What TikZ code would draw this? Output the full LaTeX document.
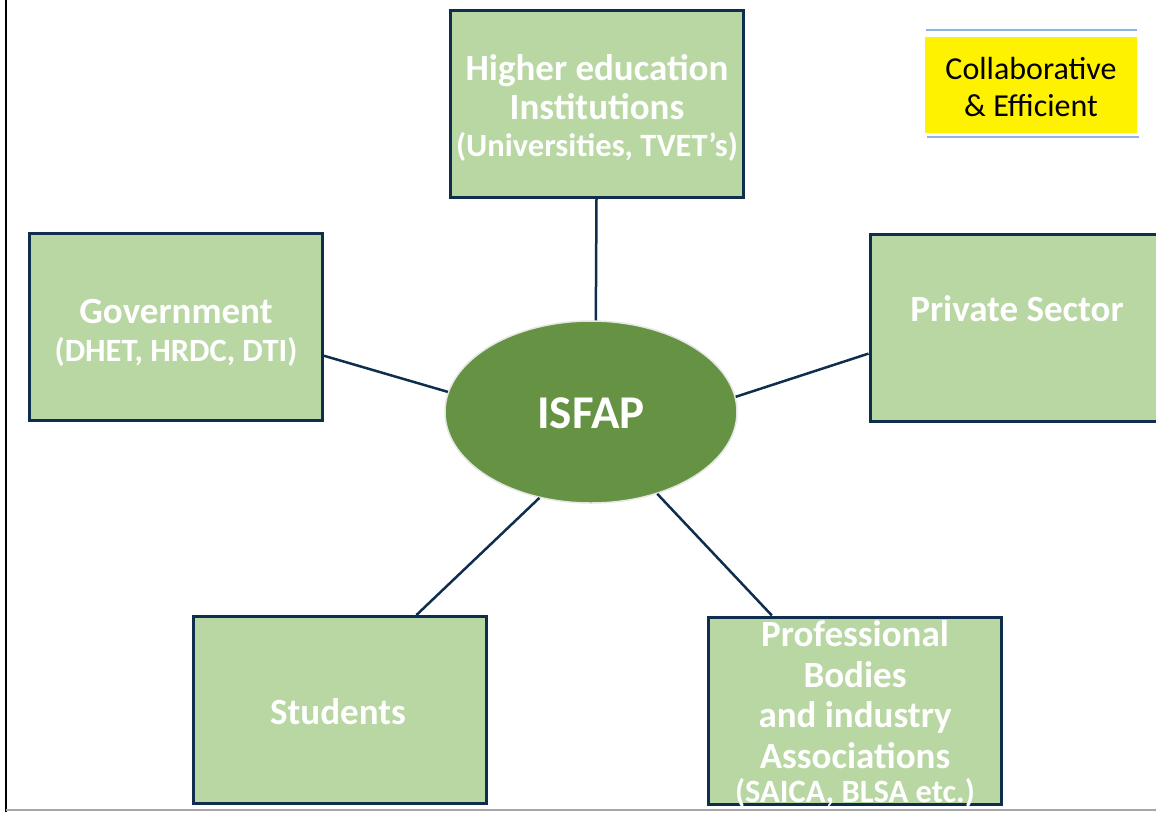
\documentclass[tikz,border=0pt]{standalone}
\usepackage{fontspec}
\setmainfont{Carlito}
\usetikzlibrary{shapes.geometric}
\definecolor{boxfill}{HTML}{B8D7A2}
\definecolor{navy}{HTML}{0F2D4C}
\definecolor{ovalfill}{HTML}{669343}
\definecolor{ovaledge}{HTML}{E6E6E6}
\definecolor{bluerule}{HTML}{8DB4E2}
\tikzset{
  greenbox/.style={draw=navy, line width=3pt, fill=boxfill, minimum width=293pt, minimum height=187pt, inner sep=0pt},
  whitetext/.style={text=white, font=\bfseries\fontsize{37}{39}\selectfont, align=center, inner sep=0pt},
  link/.style={draw=navy, line width=2.5pt}
}
\newcommand{\paren}[1]{{\fontsize{32.5}{34}\selectfont #1}}
\begin{document}
\begin{tikzpicture}[x=1pt,y=-1pt]
\useasboundingbox (0,0) rectangle (1156,812);
\clip (0,0) rectangle (1156,812);
\fill[white] (0,0) rectangle (1156,812);
% frame lines
\draw[black, line width=2.5pt] (6,0) -- (6,812);
\draw[gray!70, line width=1.5pt] (6,810) -- (1156,810);
% boxes
\node[greenbox] (he) at (596.5,103.5) {};
\node[greenbox] (gov) at (176,327) {};
\node[greenbox] (priv) at (1016.5,327.5) {};
\node[greenbox] (stu) at (339.5,710) {};
\node[greenbox] (prof) at (854.5,710.5) {};
% centre
\node[ellipse, draw=ovaledge, line width=1.5pt, fill=ovalfill, minimum width=292pt, minimum height=182pt, inner sep=0pt] (isfap) at (591,412) {};
\node[text=white, font=\bfseries\fontsize{47}{52}\selectfont, inner sep=0pt] (isfaptext) at (591,413) {ISFAP};
% connectors
\draw[link] (he.south) -- (isfap.87);
\draw[link] (gov.-11) -- (isfap.172);
\draw[link] (priv.190) -- (isfap.6);
\draw[link] (stu.51) -- (isfap.239);
\draw[link] (prof.131) -- (isfap.309);
% texts
\node[whitetext] (hetext) at (597,108) {Higher education\\[0pt]Institutions\\[-2pt]\paren{(Universities, TVET’s)}};
\node[whitetext] (govtext) at (176,333) {Government\\[-1pt]\paren{(DHET, HRDC, DTI)}};
\node[whitetext] (privtext) at (1017,309) {Private Sector};
\node[whitetext] (stutext) at (338,712) {Students};
\node[whitetext] (proftext) at (855,714) {Professional\\[1.5pt]Bodies\\[1.5pt]and industry\\[1.5pt]Associations\\[-5pt]\paren{(SAICA, BLSA etc.)}};
% yellow note
\fill[yellow] (925,37) rectangle (1137,133);
\draw[bluerule, line width=1.8pt] (926,30) -- (1137,30);
\draw[bluerule, line width=1.8pt] (927,137) -- (1139,137);
\node[font=\fontsize{32}{37}\selectfont, align=center, inner sep=0pt] (note) at (1031,87) {Collaborative\\\& Efficient};
\end{tikzpicture}
\end{document}
